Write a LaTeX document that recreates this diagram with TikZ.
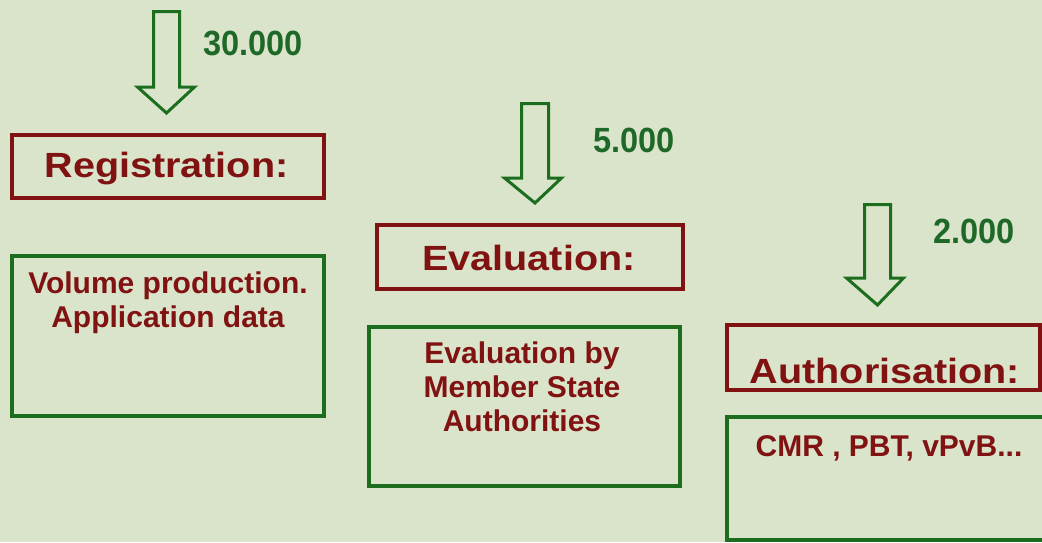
\documentclass[tikz,border=0pt]{standalone}
\usepackage{fontspec}
\setmainfont{Liberation Sans}
\newfontfamily\hdrfont{Liberation Sans}[FakeStretch=1.13]
\newfontfamily\numfont{Liberation Sans}[FakeStretch=0.93]
\definecolor{bgc}{RGB}{217,228,203}
\definecolor{maroonc}{RGB}{128,18,18}
\definecolor{dgreen}{RGB}{28,110,30}
\definecolor{ngreen}{RGB}{30,105,40}
\begin{document}
\begin{tikzpicture}[x=1pt,y=-1pt,
 redbox/.style={draw=maroonc,line width=4pt,inner sep=0pt},
 greenbox/.style={draw=dgreen,line width=4pt,inner sep=0pt},
 hdr/.style={text=maroonc,font=\hdrfont\bfseries\fontsize{35}{40}\selectfont,inner sep=0pt,anchor=base},
 body/.style={text=maroonc,font=\bfseries\fontsize{30}{34}\selectfont,inner sep=0pt,align=center,anchor=north},
 num/.style={text=ngreen,font=\numfont\bfseries\fontsize{35}{40}\selectfont,inner sep=0pt,anchor=base west},
 bigarrow/.style={draw=dgreen,line width=3pt,line join=miter}
]
\useasboundingbox (0,0) rectangle (1042,542);
\fill[bgc] (0,0) rectangle (1042,542);
\clip (0,0) rectangle (1042,542);

% boxes
\node[redbox, minimum width=312pt, minimum height=63pt] (regbox) at (168,166.5) {};
\node[greenbox, minimum width=312pt, minimum height=160pt] (regbody) at (168,336) {};
\node[redbox, minimum width=306pt, minimum height=64pt] (evalbox) at (530,257) {};
\node[greenbox, minimum width=311pt, minimum height=159pt] (evalbody) at (524.5,406.5) {};
\node[redbox, minimum width=313pt, minimum height=65pt] (authbox) at (883.5,357.5) {};
\node[greenbox, minimum width=333pt, minimum height=123pt] (authbody) at (893.5,478.5) {};

% headers
\node[hdr] (reghdr) at (166.5,177) {Registration:};
\node[hdr] (evalhdr) at (529,270) {Evaluation:};
\node[hdr] (authhdr) at (885,383) {Authorisation:};

% body texts
\node[body] (regtxt) at (168,272) {Volume production.\\Application data};
\node[body] (evaltxt) at (522,342) {Evaluation by\\Member State\\Authorities};
\node[body] (authtxt) at (889,435) {CMR , PBT, vPvB...};

% numbers
\node[num] (n1) at (203,55) {30.000};
\node[num] (n2) at (593,152) {5.000};
\node[num] (n3) at (933,243) {2.000};

% arrows
\draw[bigarrow] (153.5,11.5) -- (179.5,11.5) -- (179.5,87) -- (194.5,87) -- (166.5,113) -- (137.5,87) -- (153.5,87) -- cycle;
\draw[bigarrow] (521.5,103.5) -- (548.5,103.5) -- (548.5,178) -- (561.5,178) -- (535,203) -- (504.5,178) -- (521.5,178) -- cycle;
\draw[bigarrow] (864.5,204.5) -- (890.5,204.5) -- (890.5,278) -- (903.5,278) -- (877.5,305) -- (846.5,278) -- (864.5,278) -- cycle;
\end{tikzpicture}
\end{document}
